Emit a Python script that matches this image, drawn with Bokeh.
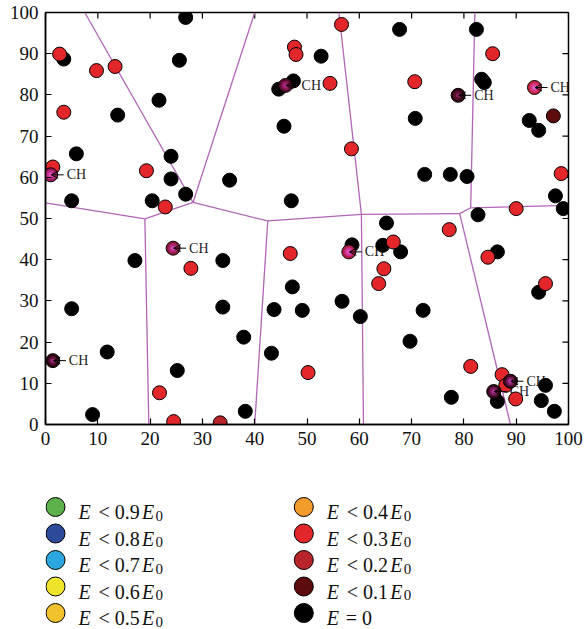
import math
from bokeh.plotting import figure
from bokeh.models import Range1d, FixedTicker, Arrow, OpenHead, ColumnDataSource
from bokeh.layouts import column
from bokeh.embed import file_html
from bokeh.resources import INLINE
from bokeh.core.properties import value

# ---------------- data ----------------
ticks = list(range(0, 101, 10))

# nodes with E = 0
dead_x = [26.8, 3.5, 25.6, 21.7, 13.8, 5.9, 5.0, 24.0, 24.0, 26.8, 20.4, 35.2, 47.0, 45.6,
          47.4, 44.6, 67.7, 82.4, 52.7, 83.4, 83.9, 92.5, 94.3, 70.7, 72.5, 77.4, 80.6, 97.5,
          99.0, 82.7, 65.2, 17.1, 33.9, 5.0, 33.9, 37.9, 11.8, 25.2, 9.0, 38.2, 43.2, 43.7,
          47.2, 49.1, 58.6, 64.5, 67.9, 56.7, 60.2, 72.2, 69.7, 86.4, 94.3, 77.6, 86.4, 95.6,
          94.8, 97.3]
dead_y = [98.8, 88.7, 88.4, 78.7, 75.1, 65.7, 54.3, 65.1, 59.6, 55.9, 54.3, 59.3, 54.3, 72.4,
          83.4, 81.4, 95.9, 95.9, 89.4, 83.8, 83.0, 73.8, 71.4, 74.3, 60.7, 60.7, 60.2, 55.5,
          52.4, 50.9, 48.9, 39.8, 39.8, 28.1, 28.5, 21.2, 17.6, 13.1, 2.4, 3.2, 17.3, 27.9,
          33.4, 27.7, 43.6, 43.5, 41.9, 29.9, 26.2, 27.7, 20.2, 41.9, 32.1, 6.6, 5.6, 9.5,
          5.8, 3.2]

# nodes with E < 0.3 E0
e03_x = [2.7, 9.75, 13.3, 3.5, 1.4, 19.3, 22.9, 47.6, 47.9, 56.6, 85.5, 54.4, 70.6, 58.5,
         98.6, 90.0, 27.8, 21.8, 24.5, 46.8, 77.2, 66.5, 64.7, 63.7, 50.2, 84.6, 95.6, 81.3,
         87.3, 88.0, 89.9]
e03_y = [89.9, 85.9, 86.9, 75.8, 62.5, 61.6, 52.8, 91.6, 89.8, 97.1, 90.0, 82.8, 83.2, 66.9,
         60.9, 52.4, 37.9, 7.7, 0.7, 41.5, 47.3, 44.3, 37.8, 34.2, 12.6, 40.6, 34.2, 14.1,
         12.1, 9.5, 6.2]

# nodes with E < 0.2 E0
e02_x = [33.4]
e02_y = [0.4]

# nodes with E < 0.1 E0
e01_x = [97.1]
e01_y = [74.9]

# cluster heads
ch_x = [1.0, 45.9, 78.9, 93.5, 24.4, 58.0, 1.4, 88.9, 85.7]
ch_y = [60.6, 82.3, 79.9, 81.8, 42.8, 41.9, 15.5, 10.5, 8.0]
ch_edge = ["#9c1c5a", "#5a0c30", "#320612", "#c8243e", "#8c1a38", "#b21e48", "#2c0510", "#3e0820", "#3e0820"]
ch_mid = ["#c42d8e", "#8a1a5a", "#5a0f32", "#d43a88", "#b32876", "#cc3490", "#5e1038", "#761a58", "#761a58"]
ch_core = ["#e04fb9", "#b02c84", "#8a2060", "#e35cc4", "#d448ac", "#e250c0", "#9a2a7a", "#b0389a", "#a83090"]
ch_label = ["CH"] * len(ch_x)

# cell boundaries
seg_x0 = [7.5, 40.0, 0.0, 19.0, 28.2, 19.0, 42.5, 42.5, 60.4, 60.4, 60.4, 79.2, 79.2, 81.3, 81.3]
seg_y0 = [100.0, 100.0, 53.8, 49.9, 53.9, 49.9, 49.4, 49.4, 51.0, 51.0, 51.0, 51.2, 51.2, 52.6, 52.6]
seg_x1 = [28.2, 28.2, 19.0, 28.2, 42.5, 19.75, 40.0, 60.4, 56.1, 60.8, 79.2, 81.3, 88.9, 82.1, 100.0]
seg_y1 = [53.9, 53.9, 49.9, 53.9, 49.4, 0.0, 0.0, 51.0, 100.0, 0.0, 51.2, 52.6, 0.0, 100.0, 53.2]

# legend
leg_levels = ["0.9", "0.8", "0.7", "0.6", "0.5", "0.4", "0.3", "0.2", "0.1", "0"]
leg_colors = ["#5db14a", "#2e4b9b", "#2aa7df", "#eee52a", "#f2c12e", "#f39b2b", "#e2262a",
              "#b9242a", "#5e0b0d", "#000000"]

# ---------------- styling / layout ----------------
FONT = "Liberation Serif"
W, H = 584, 629
FL, FT, FR, FB = 45, 12, 16, 32
FW = W - FL - FR
MAIN_H = FT + 412 + FB
LINE_COL = "#b266b8"
MS = 14
TICK = 6

p = figure(width=W, height=MAIN_H, x_range=Range1d(0, 100), y_range=Range1d(0, 100),
           output_backend="svg", toolbar_location=None,
           min_border_left=FL, min_border_right=FR, min_border_top=FT, min_border_bottom=FB)
p.xgrid.visible = False
p.ygrid.visible = False
p.outline_line_color = "black"
p.outline_line_width = 1.5
p.background_fill_color = "white"
p.border_fill_color = "white"

for ax in (p.xaxis[0], p.yaxis[0]):
    ax.ticker = FixedTicker(ticks=ticks)
    ax.major_tick_in = TICK
    ax.major_tick_out = 0
    ax.minor_tick_in = 0
    ax.minor_tick_out = 0
    ax.axis_line_width = 1.5
    ax.axis_line_color = "black"
    ax.major_tick_line_width = 1.2
    ax.major_tick_line_color = "black"
    ax.major_label_text_font = FONT
    ax.major_label_text_font_size = "19px"
    ax.major_label_text_color = "#111111"
    ax.major_label_standoff = 7

# mirrored inward ticks on the top and right edges (dash markers clipped by the frame)
p.scatter(ticks, [100] * len(ticks), marker="dash", size=2 * TICK, angle=math.pi / 2,
          line_color="black", line_width=1.2)
p.scatter([100] * len(ticks), ticks, marker="dash", size=2 * TICK, angle=0,
          line_color="black", line_width=1.2)

# boundaries
p.segment(x0=seg_x0, y0=seg_y0, x1=seg_x1, y1=seg_y1, line_color=LINE_COL, line_width=1.3)

# CH labels (below markers)
p.text(x=ch_x, y=ch_y, text=ch_label, x_offset=16, text_baseline="middle",
       text_font=value(FONT), text_font_size="14px", text_color="#222222")

# nodes
p.scatter(dead_x, dead_y, size=MS, fill_color="#000000", line_color="black", line_width=1)
p.scatter(e03_x, e03_y, size=MS, fill_color=leg_colors[6], line_color="black", line_width=1)
p.scatter(e02_x, e02_y, size=MS, fill_color=leg_colors[7], line_color="black", line_width=1)
p.scatter(e01_x, e01_y, size=MS, fill_color=leg_colors[8], line_color="black", line_width=1)

# cluster heads (shaded)
p.scatter(ch_x, ch_y, size=MS, fill_color=ch_edge, line_color="black", line_width=1)
p.scatter(ch_x, ch_y, size=9, fill_color=ch_mid, line_color=None)
p.scatter(ch_x, ch_y, size=4.5, fill_color=ch_core, line_color=None)

# arrows pointing at cluster heads
upx = 100.0 / FW
arr_src = ColumnDataSource(dict(xs=[x + 13 * upx for x in ch_x], ys=ch_y,
                                xe=[x + 0.5 * upx for x in ch_x], ye=ch_y))
p.add_layout(Arrow(end=OpenHead(size=7, line_width=1, line_color="black"),
                   x_start="xs", y_start="ys", x_end="xe", y_end="ye",
                   source=arr_src, line_width=1, line_color="black"))

# ---------------- legend panel ----------------
# the column aligns this panel's frame with the plot frame above (x from FL to W-FR),
# so its x range is given in page pixels over that span
LEG_H = H - MAIN_H
q = figure(width=W, height=LEG_H, x_range=Range1d(FL, W - FR), y_range=Range1d(H, MAIN_H),
           x_axis_type=None, y_axis_type=None,
           output_backend="svg", toolbar_location=None,
           min_border_left=FL, min_border_right=FR, min_border_top=0, min_border_bottom=0)
q.grid.visible = False
q.outline_line_color = None
q.background_fill_color = "white"
q.border_fill_color = "white"

col_x = [55, 303.3]
row0, row_dy = 506.5, 26.5
lx, ly = [], []
for i in range(len(leg_levels)):
    lx.append(col_x[i // 5])
    ly.append(row0 + (i % 5) * row_dy)
q.scatter(lx, ly, size=19, fill_color=leg_colors, line_color="black", line_width=1)

e1_x, e1_y, mid_x, mid_y, mid_t, e2_x, e2_y, sub_x, sub_y = [], [], [], [], [], [], [], [], []
for i, lev in enumerate(leg_levels):
    tx = lx[i] + 23
    base = ly[i] + 5
    e1_x.append(tx)
    e1_y.append(base)
    if lev == "0":
        mid_x.append(tx + 19)
        mid_y.append(base)
        mid_t.append("= 0")
    else:
        mid_x.append(tx + 20)
        mid_y.append(base)
        mid_t.append("< " + lev)
        e2_x.append(tx + 63.5)
        e2_y.append(base)
        sub_x.append(tx + 77)
        sub_y.append(base + 3.5)

q.text(x=e1_x, y=e1_y, text=["E"] * len(e1_x), text_font=value(FONT), text_font_style="italic",
       text_font_size="20px", text_baseline="alphabetic", text_color="#111111")
q.text(x=mid_x, y=mid_y, text=mid_t, text_font=value(FONT),
       text_font_size="20px", text_baseline="alphabetic", text_color="#111111")
q.text(x=e2_x, y=e2_y, text=["E"] * len(e2_x), text_font=value(FONT), text_font_style="italic",
       text_font_size="20px", text_baseline="alphabetic", text_color="#111111")
q.text(x=sub_x, y=sub_y, text=["0"] * len(sub_x), text_font=value(FONT),
       text_font_size="15px", text_baseline="alphabetic", text_color="#111111")

layout = column(p, q, spacing=0)
open("out.html", "w").write(file_html(layout, INLINE))
